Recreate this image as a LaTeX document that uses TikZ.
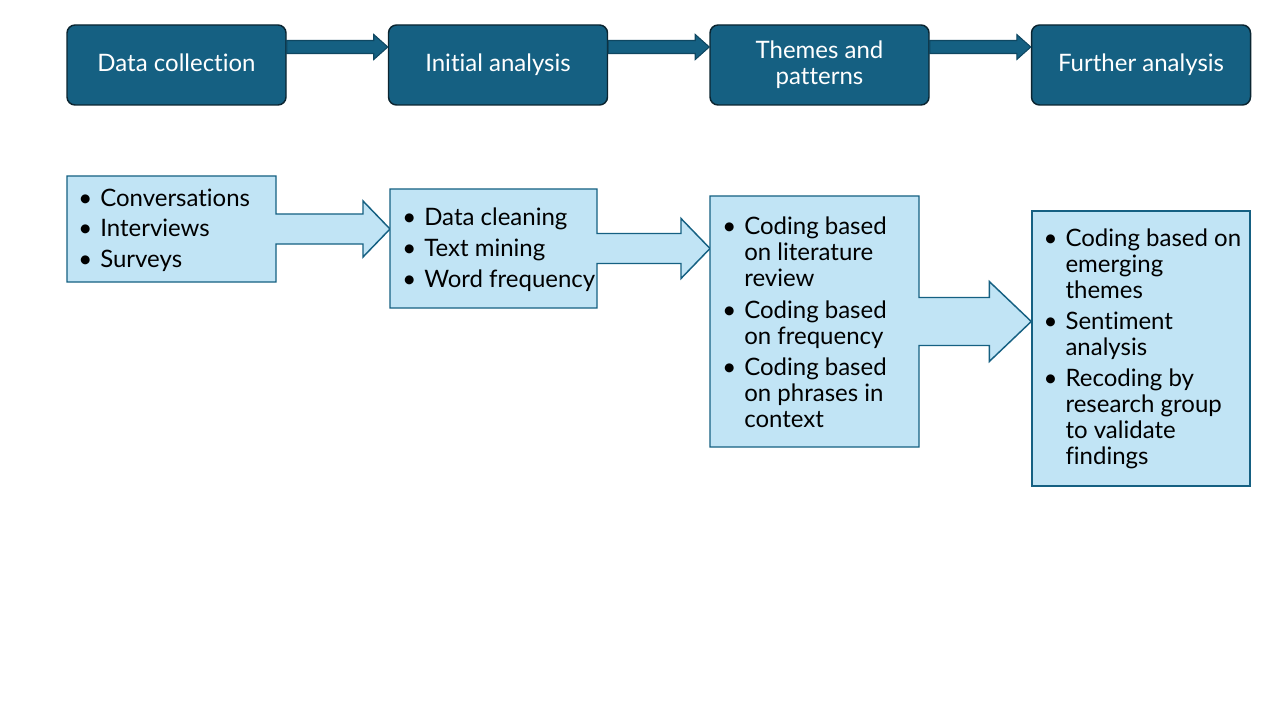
\documentclass[tikz,border=0pt]{standalone}
\usepackage{fontspec}
\setmainfont{Lato}[Ligatures=NoCommon]
\usetikzlibrary{calc}
\definecolor{dteal}{HTML}{156082}
\definecolor{lblue}{HTML}{C1E4F5}
\definecolor{darkline}{HTML}{0B2531}
\definecolor{arrline}{HTML}{0F4761}
\newcommand\bul{\makebox[16.5pt][l]{\textbullet}}
\newcommand\ind{\hspace*{16.5pt}}
\begin{document}
\begin{tikzpicture}[x=0.75pt,y=-0.75pt,
  topbox/.style={draw=darkline, line width=1.1pt, fill=dteal, rounded corners=6pt,
    minimum width=164.25pt, minimum height=60pt, text=white,
    font=\fontsize{18}{19.5}\selectfont, align=center, inner sep=0pt},
  toparrow/.style={fill=dteal, draw=arrline, line width=0.8pt},
  callout/.style={fill=lblue, draw=dteal, line width=1.1pt, line join=miter},
  holder/.style={inner sep=0pt, outer sep=0pt},
  biglist/.style={anchor=north west, inner sep=0pt, align=left, font=\fontsize{18}{22.9}\selectfont},
  smalllist/.style={anchor=north west, inner sep=0pt, align=left, font=\fontsize{18}{19.5}\selectfont},
]
\useasboundingbox (0,0) rectangle (1280,720);
\fill[white] (0,0) rectangle (1280,720);

% top row
\node[topbox] (b1) at (176.5,65) {Data collection\vphantom{y}};
\node[topbox] (b2) at (498,65) {Initial analysis};
\node[topbox] (b3) at (819.5,65) {Themes and\\patterns};
\node[topbox] (b4) at (1141,65) {Further analysis};

\foreach \a/\b in {b1/b2,b2/b3,b3/b4}{
  \draw[toparrow] ($(\a.east)+(0,-24.5)$) -- ($(\b.west)+(-14,-24.5)$) -- ($(\b.west)+(-14,-30.5)$)
    -- ($(\b.west)+(0,-18)$) -- ($(\b.west)+(-14,-5.5)$) -- ($(\b.west)+(-14,-11.5)$)
    -- ($(\a.east)+(0,-11.5)$) -- cycle;
}

% bottom holders
\node[holder, minimum width=156.75pt, minimum height=79.5pt] (c1) at (171.5,229) {};
\node[holder, minimum width=155.25pt, minimum height=89.25pt] (c2) at (493.5,248.5) {};
\node[holder, minimum width=156.75pt, minimum height=188.25pt] (c3) at (814.5,321.5) {};

% callout 1
\draw[callout] (c1.north west) -- (c1.north east) -- ($(c1.east)+(0,-15)$)
  -- ($(c2.west |- c1.east)+(-27,-15)$) -- ($(c2.west |- c1.east)+(-27,-28)$)
  -- (c2.west |- c1.east)
  -- ($(c2.west |- c1.east)+(-27,28)$) -- ($(c2.west |- c1.east)+(-27,15)$)
  -- ($(c1.east)+(0,15)$) -- (c1.south east) -- (c1.south west) -- cycle;
% callout 2
\draw[callout] (c2.north west) -- (c2.north east) -- ($(c2.east)+(0,-15)$)
  -- ($(c3.west |- c2.east)+(-29,-15)$) -- ($(c3.west |- c2.east)+(-29,-30)$)
  -- (c3.west |- c2.east)
  -- ($(c3.west |- c2.east)+(-29,30)$) -- ($(c3.west |- c2.east)+(-29,15)$)
  -- ($(c2.east)+(0,15)$) -- (c2.south east) -- (c2.south west) -- cycle;
% callout 4 box
\node[callout, inner sep=0pt, minimum width=163.5pt, minimum height=206.25pt] (c4) at (1141,348.5) {};
% callout 3
\draw[callout] (c3.north west) -- (c3.north east) -- ($(c3.east)+(0,-24)$)
  -- ($(c4.west |- c3.east)+(-42,-24)$) -- ($(c4.west |- c3.east)+(-42,-40)$)
  -- (c4.west |- c3.east)
  -- ($(c4.west |- c3.east)+(-42,40)$) -- ($(c4.west |- c3.east)+(-42,24)$)
  -- ($(c3.east)+(0,24)$) -- (c3.south east) -- (c3.south west) -- cycle;

% texts
\node[biglist] (t1) at ($(c1.north west)+(11,12.5)$) {\bul Conversations\\\bul Interviews\\\bul Surveys};
\node[biglist] (t2) at ($(c2.north west)+(12,19)$) {\bul Data cleaning\\\bul Text mining\\\bul Word frequency};
\node[smalllist] (t3) at ($(c3.north west)+(12,21)$) {\bul Coding based\\\ind on literature\\\ind review\\[4pt]
  \bul Coding based\\\ind on frequency\\[4pt]
  \bul Coding based\\\ind on phrases in\\\ind context};
\node[smalllist] (t4) at ($(c4.north west)+(12,18)$) {\bul Coding based on\\\ind emerging\\\ind themes\\[4pt]
  \bul Sentiment\\\ind analysis\\[4pt]
  \bul Recoding by\\\ind research group\\\ind to validate\\\ind findings};
\end{tikzpicture}
\end{document}
